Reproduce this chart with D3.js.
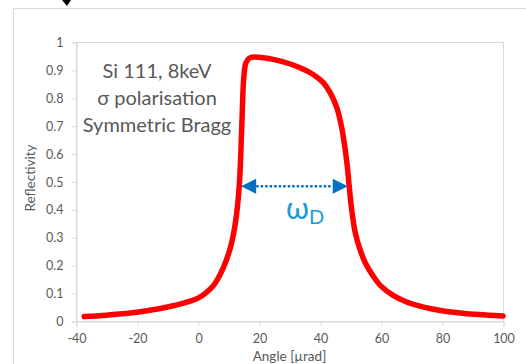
<!DOCTYPE html>
<html><head><meta charset="utf-8">
<script src="https://cdn.jsdelivr.net/npm/d3@7"></script>
<style>
html,body{margin:0;padding:0;background:#fff;}
svg{display:block;}
text{font-family:Lato,"Open Sans",sans-serif;}
</style></head>
<body>
<script>
const angles = [-37.3,-30,-20,-10,-5,0,2.5,5,7,9,10.8,12.3,13.5,14.3,15,15.7,16.8,18.5,20,25,30,34,38,41,43.5,45.5,47,48.2,49,49.6,50.5,51.5,53,55,57.5,60,64,68,74,80,86,92,100];
const reflectivity = [0.016,0.021,0.031,0.05,0.063,0.082,0.1,0.126,0.161,0.21,0.27,0.355,0.48,0.68,0.87,0.925,0.942,0.946,0.945,0.937,0.922,0.905,0.882,0.855,0.815,0.765,0.7,0.62,0.55,0.48,0.39,0.32,0.26,0.205,0.16,0.125,0.092,0.07,0.05,0.037,0.029,0.023,0.018];
const xTicks = [-40,-20,0,20,40,60,80,100];
const yTicks = [0,0.1,0.2,0.3,0.4,0.5,0.6,0.7,0.8,0.9,1];
const annotationLines = ["Si 111, 8keV","σ polarisation","Symmetric Bragg"];
const widthLeft = 13.5, widthRight = 49.6, widthLevel = 0.483;

const W = 526, H = 364;
const svg = d3.select("body").append("svg").attr("width",W).attr("height",H);
const grey = "#d9d9d9", txt = "#595959";
const fmt = d => String(d);

// outer chart border
svg.append("path").attr("d","M13.5,364 L13.5,8.5 L526,8.5").attr("fill","none").attr("stroke",grey).attr("stroke-width",1);
// cropped black mark at top
svg.append("path").attr("d","M62,0 L71,0 L67,6 Z").attr("fill","#000");

const x = d3.scaleLinear().domain([-40,100]).range([76,503]);
const y = d3.scaleLinear().domain([0,1]).range([321,42]);

// plot area border
svg.append("rect").attr("x",x(-40)+0.5).attr("y",y(1)+0.5).attr("width",x(100)-x(-40)).attr("height",y(0)-y(1))
  .attr("fill","none").attr("stroke",grey);

const yAxis = svg.append("g").attr("transform",`translate(${x(-40)+0.5},0.5)`)
  .call(d3.axisLeft(y).tickValues(yTicks).tickSize(5).tickPadding(8).tickFormat(fmt));
const xAxis = svg.append("g").attr("transform",`translate(0.5,${y(0)+0.5})`)
  .call(d3.axisBottom(x).tickValues(xTicks).tickSize(5).tickPadding(8).tickFormat(fmt));
[yAxis,xAxis].forEach(a=>{
  a.select(".domain").attr("stroke",grey);
  a.selectAll(".tick line").attr("stroke",grey);
  a.selectAll(".tick text").attr("fill",txt).style("font-size","12.5px").style("font-family","Lato,'Open Sans',sans-serif");
});

// axis titles
svg.append("text").attr("x",(x(-40)+x(100))/2).attr("y",361).attr("text-anchor","middle")
  .attr("fill",txt).style("font-size","13.5px").text("Angle [µrad]");
svg.append("text").attr("transform","translate(35,178) rotate(-90)").attr("text-anchor","middle")
  .attr("fill",txt).style("font-size","13.5px").text("Reflectivity");

// curve
const line = d3.line().x((d,i)=>x(angles[i])).y((d,i)=>y(reflectivity[i])).curve(d3.curveCatmullRom.alpha(0.5));
svg.append("path").datum(reflectivity).attr("d",line).attr("fill","none").attr("stroke","#ff0000")
  .attr("stroke-width",5.5).attr("stroke-linecap","round").attr("stroke-linejoin","round");

// annotation text
annotationLines.forEach((t,i)=>{
  svg.append("text").attr("x",157).attr("y",78+i*27).attr("text-anchor","middle")
    .attr("fill",txt).style("font-size","20px").text(t);
});

// width arrow
const ay = y(widthLevel), xl = x(widthLeft)+2, xr = x(widthRight)-1.5;
const blue = "#0070c0";
svg.append("line").attr("x1",xl+15).attr("x2",xr-15).attr("y1",ay).attr("y2",ay)
  .attr("stroke",blue).attr("stroke-width",2.5).attr("stroke-dasharray","2.5,2");
svg.append("path").attr("d",`M${xl},${ay} L${xl+15},${ay-7.5} L${xl+15},${ay+7.5} Z`).attr("fill",blue);
svg.append("path").attr("d",`M${xr},${ay} L${xr-15},${ay-7.5} L${xr-15},${ay+7.5} Z`).attr("fill",blue);

const om = svg.append("text").attr("x",286).attr("y",219).attr("fill","#1b9ad6").style("font-size","30px");
om.append("tspan").text("ω");
om.append("tspan").attr("dy",5).style("font-size","20px").text("D");
</script>
</body></html>
